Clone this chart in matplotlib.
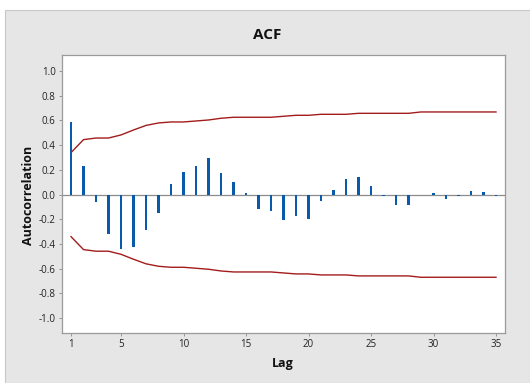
import matplotlib
matplotlib.use("Agg")
import matplotlib.pyplot as plt
from matplotlib.patches import Rectangle
import numpy as np

lags = list(range(1, 36))
acf = [0.585, 0.235, -0.062, -0.318, -0.437, -0.42, -0.286, -0.151, 0.086, 0.18,
       0.235, 0.30, 0.178, 0.102, 0.016, -0.113, -0.13, -0.208, -0.175, -0.194,
       -0.049, 0.04, 0.127, 0.143, 0.073, -0.01, -0.086, -0.081, 0.0, 0.016,
       -0.032, -0.013, 0.032, 0.024, -0.013]
limit = [0.34, 0.445, 0.458, 0.458, 0.483, 0.523, 0.56, 0.58, 0.588, 0.588,
         0.596, 0.604, 0.618, 0.626, 0.626, 0.626, 0.626, 0.634, 0.642, 0.642,
         0.65, 0.65, 0.65, 0.658, 0.658, 0.658, 0.658, 0.658, 0.669, 0.669,
         0.669, 0.669, 0.669, 0.669, 0.669]
xticks = [1, 5, 10, 15, 20, 25, 30, 35]
yticks = [-1.0, -0.8, -0.6, -0.4, -0.2, 0.0, 0.2, 0.4, 0.6, 0.8, 1.0]

plt.rcParams['font.family'] = ['Open Sans', 'DejaVu Sans']

W, H = 530, 383
fig = plt.figure(figsize=(W/100, H/100), dpi=100, facecolor='white')
bg = Rectangle((5/W, 0), 1 - 5/W, 1 - 10/H, transform=fig.transFigure,
               facecolor='#e6e6e6', edgecolor='#c8c8c8', lw=0.8, zorder=-10)
fig.patches.append(bg)

ax = fig.add_axes([62/W, 1 - 333/H, (505-62)/W, (333-55)/H])
ax.set_zorder(5)
ax.set_facecolor('white')
ax.bar(lags, acf, width=0.2, color='#0a5aac', zorder=3)
ax.plot(lags, limit, color='#a31c1c', lw=1.0, zorder=2)
ax.plot(lags, [-v for v in limit], color='#a31c1c', lw=1.0, zorder=2)
ax.axhline(0, color='#8c8c8c', lw=0.9, zorder=1)

ax.set_xlim(0.28, 35.72)
ax.set_ylim(-1.12, 1.13)
ax.set_xticks(xticks)
ax.set_yticks(yticks)
ax.set_yticklabels([f"{v:.1f}" for v in yticks])
ax.tick_params(axis='both', labelsize=7, length=2.5, width=0.6, color='#888888', pad=2, labelcolor='#222222')
for s in ax.spines.values():
    s.set_color('#9a9a9a')
    s.set_linewidth(0.9)

fig.text(267.5/W, 1 - 35/H, 'ACF', ha='center', va='center', fontsize=11, fontweight='bold', color='#111111')
fig.text(283/W, 1 - 363/H, 'Lag', ha='center', va='center', fontsize=9, fontweight='bold', color='#111111')
fig.text(29/W, 1 - 195/H, 'Autocorrelation', ha='center', va='center', rotation=90, fontsize=9, fontweight='bold', color='#111111')

fig.savefig('out.png', dpi=100, facecolor='white')
